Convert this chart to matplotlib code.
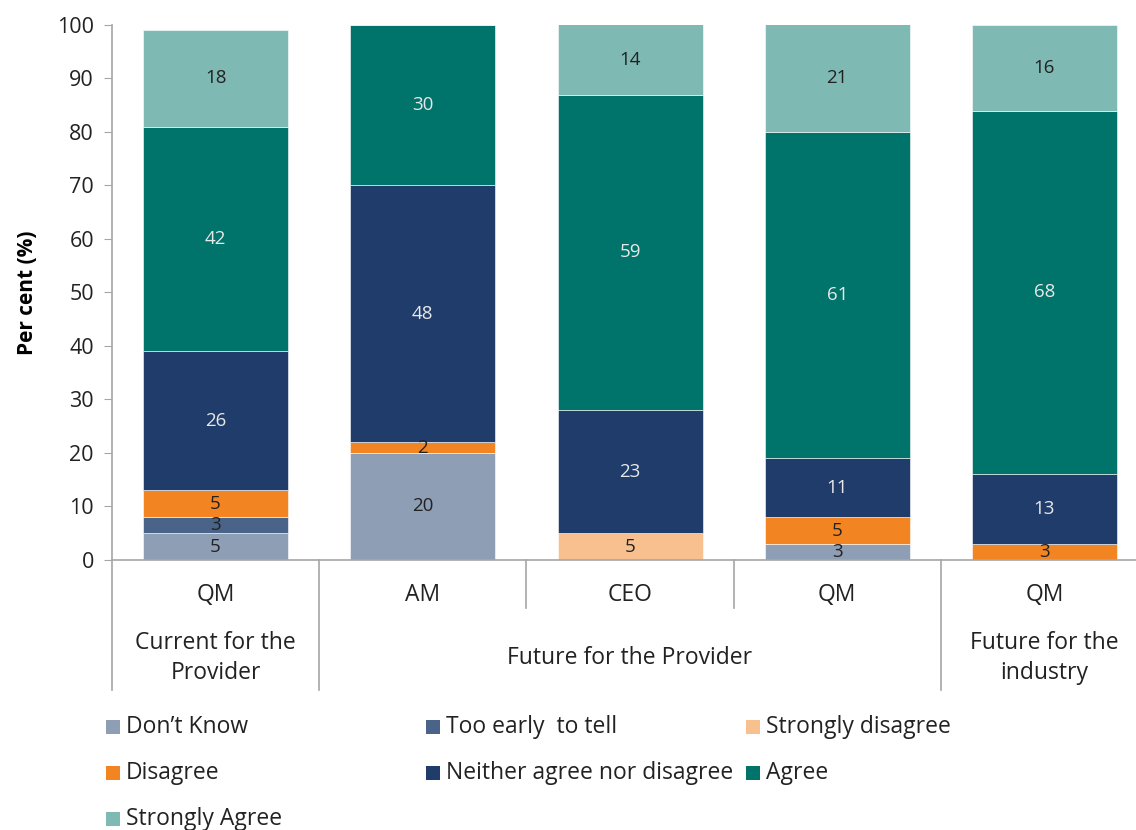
import numpy as np
import matplotlib.pyplot as plt
from matplotlib.patches import Rectangle
from matplotlib.transforms import blended_transform_factory

plt.rcParams['font.family'] = ['Open Sans', 'DejaVu Sans']

# Data
roles = ["QM", "AM", "CEO", "QM", "QM"]
groups = ["Current for the\nProvider", "Future for the Provider", "Future for the\nindustry"]
group_spans = [(0, 0), (1, 3), (4, 4)]

series = ["Don\u2019t Know", "Too early  to tell", "Strongly disagree",
          "Disagree", "Neither agree nor disagree", "Agree", "Strongly Agree"]
dont_know = [5, 20, 0, 3, 0]
too_early = [3, 0, 0, 0, 0]
strongly_disagree = [0, 0, 5, 0, 0]
disagree = [5, 2, 0, 5, 3]
neither = [26, 48, 23, 11, 13]
agree = [42, 30, 59, 61, 68]
strongly_agree = [18, 0, 14, 21, 16]

values = [dont_know, too_early, strongly_disagree, disagree, neither, agree, strongly_agree]
colors = ["#8E9EB5", "#4A6389", "#F9C08F", "#F28522", "#1F3C6A", "#00736A", "#7FB9B4"]
text_colors = ["#222222", "#222222", "#222222", "#222222", "#E8E8E8", "#E8E8E8", "#222222"]

fig = plt.figure(figsize=(11.36, 8.30), dpi=100)
ax = fig.add_axes([0.0986, 0.3253, 0.912, 0.6446])

x = np.arange(len(roles))
bottom = np.zeros(len(roles))
for vals, col, tcol in zip(values, colors, text_colors):
    vals = np.array(vals, dtype=float)
    ax.bar(x, vals, width=0.7, bottom=bottom, color=col, edgecolor="white", linewidth=0.4)
    for xi, b, v in zip(x, bottom, vals):
        if v > 0:
            ax.text(xi, min(b + v / 2, (b + 100) / 2), f"{int(v)}", ha="center", va="center",
                    fontsize=13.5, color=tcol)
    bottom += vals

ax.set_xlim(-0.5, len(roles) - 0.5)
ax.set_ylim(0, 100)
ax.set_yticks(np.arange(0, 101, 10))
ax.tick_params(axis="y", labelsize=15.5, length=6, color="#A6A6A6", pad=7, labelcolor="#222222")
ax.set_xticks([])
ax.set_ylabel("Per cent (%)", fontsize=15, fontweight="bold", labelpad=14)
for s in ["top", "right"]:
    ax.spines[s].set_visible(False)
for s in ["left", "bottom"]:
    ax.spines[s].set_color("#A6A6A6")
    ax.spines[s].set_linewidth(1.2)

# multi-level category axis
tr = blended_transform_factory(ax.transData, ax.transAxes)
for xi, r in zip(x, roles):
    ax.text(xi, -0.065, r, transform=tr, ha="center", va="center", fontsize=16.5, color="#222222")
for (a, b), g in zip(group_spans, groups):
    ax.text((a + b) / 2, -0.183, g, transform=tr, ha="center", va="center",
            fontsize=16.5, linespacing=1.3, color="#222222")
long_seps = [-0.5, 0.5, 3.5]
short_seps = [1.5, 2.5]
for s in long_seps:
    ax.plot([s, s], [0, -0.243], transform=tr, color="#A6A6A6", lw=1.2, clip_on=False)
for s in short_seps:
    ax.plot([s, s], [0, -0.09], transform=tr, color="#A6A6A6", lw=1.2, clip_on=False)

# legend laid out row by row
col_x = [106, 426, 746]
row_y = [727, 773, 819]
W, H = 1136, 830
for i, (name, col) in enumerate(zip(series, colors)):
    cx = col_x[i % 3]
    cy = row_y[i // 3]
    fig.patches.append(Rectangle((cx / W, 1 - (cy + 7) / H), 14 / W, 14 / H,
                                 transform=fig.transFigure, facecolor=col, edgecolor="none"))
    fig.text((cx + 20) / W, 1 - cy / H, name, ha="left", va="center", fontsize=16.5, color="#222222")

fig.savefig("out.png", dpi=100)
